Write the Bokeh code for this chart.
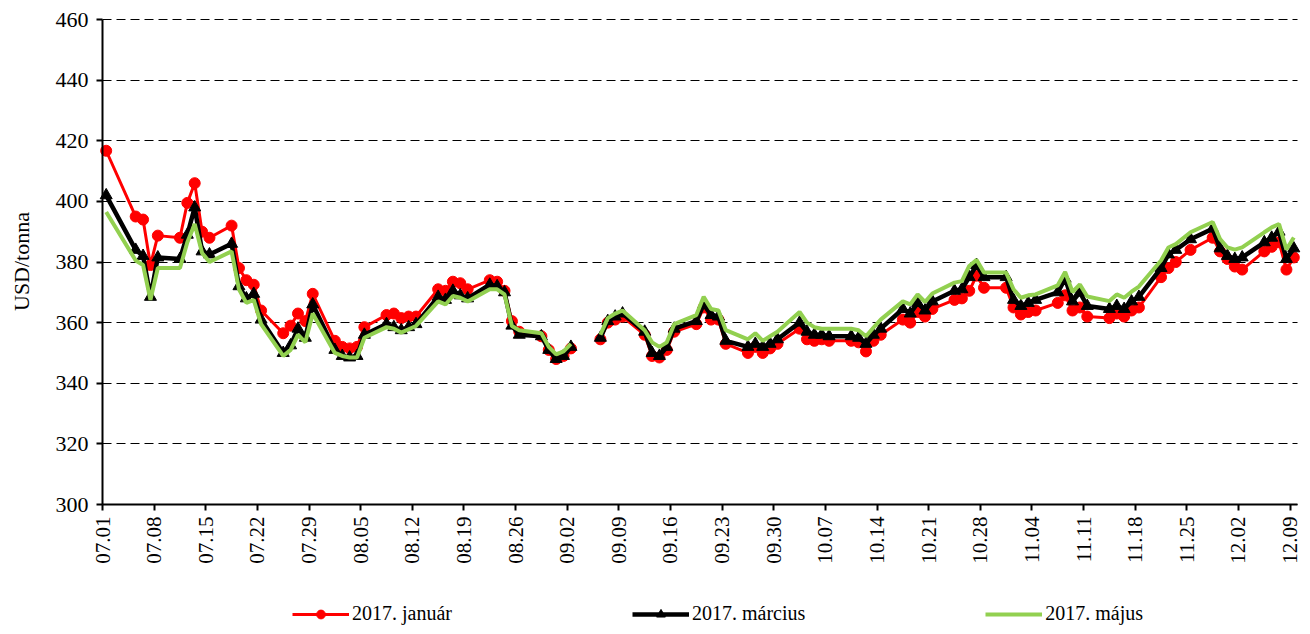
import math
import datetime as dt
from bokeh.plotting import figure
from bokeh.models import Range1d, FixedTicker, Legend, LegendItem, ColumnDataSource, Label, Grid
from bokeh.embed import file_html
from bokeh.resources import INLINE

# ---- data (2016 trading days, USD/tonna) ----
dates = ["07.01", "07.05", "07.06", "07.07", "07.08", "07.11", "07.12", "07.13", "07.14", "07.15",
         "07.18", "07.19", "07.20", "07.21", "07.22", "07.25", "07.26", "07.27", "07.28", "07.29",
         "08.01", "08.02", "08.03", "08.04", "08.05", "08.08", "08.09", "08.10", "08.11", "08.12",
         "08.15", "08.16", "08.17", "08.18", "08.19", "08.22", "08.23", "08.24", "08.25", "08.26",
         "08.29", "08.30", "08.31", "09.01", "09.02", "09.05", "09.06", "09.07", "09.08", "09.09",
         "09.12", "09.13", "09.14", "09.15", "09.16", "09.19", "09.20", "09.21", "09.22", "09.23",
         "09.26", "09.27", "09.28", "09.29", "09.30", "10.03", "10.04", "10.05", "10.06", "10.07",
         "10.10", "10.11", "10.12", "10.13", "10.14", "10.17", "10.18", "10.19", "10.20", "10.21",
         "10.24", "10.25", "10.26", "10.27", "10.28", "10.31", "11.01", "11.02", "11.03", "11.04",
         "11.07", "11.08", "11.09", "11.10", "11.11", "11.14", "11.15", "11.16", "11.17", "11.18",
         "11.21", "11.22", "11.23", "11.25", "11.28", "11.29", "11.30", "12.01", "12.02",
         "12.05", "12.06", "12.07", "12.08", "12.09"]

jan = [416.7, 395, 394, 379, 388.7, 388, 399.5, 406, 390, 388,
       392, 378, 374, 372.5, 364, 356.5, 359, 363, 360.5, 369.5,
       354, 352, 351.5, 352, 358.5, 362.5, 363, 361.5, 362, 362,
       371, 370.5, 373.5, 373, 371, 374, 373.5, 370.5, 360.5, 357,
       355.5, 351, 348, 349, 351.5, None, 354.5, 360, 361, 362,
       356, 349, 348.5, 351, 357, 359.5, 365, 361, 361, 353,
       350, 352, 350, 351.5, 353, 358, 354.5, 354, 354.5, 354,
       354, 353.5, 350.5, 354, 356, 361, 360, 363.5, 362, 364.5,
       367.5, 368, 370.5, 375.5, 371.5, 371.5, 365, 362.7, 363.5, 364,
       366.5, 369, 364, 365, 362, 361.5, 363, 362, 364, 365,
       375, 378, 380, 384, 388, 383.5, 381, 378.5, 377.5,
       383.5, 385, 386.5, 377.5, 381.5]

mar = [402, 384, 382, 368.5, 381.5, 381, 389, 398, 383.5, 382.5,
       386, 372, 368, 369.5, 361, 350, 352.5, 358, 355, 366,
       351, 349, 348.5, 349, 356, 359.5, 358.5, 357.5, 358.5, 359.5,
       368.5, 367.5, 370.5, 369, 368, 372.5, 372, 370, 359, 356,
       355.5, 351, 348, 349, 352, None, 355, 360.5, 362, 363,
       357, 350, 349, 352, 358, 360.5, 366, 362.5, 362, 354,
       352, 353, 352, 353, 354.5, 360, 357, 356, 356, 355.5,
       355.5, 355, 353, 356, 358, 364.5, 363, 366.5, 364, 367,
       370.5, 371, 375, 379, 375, 375, 367.5, 365.5, 366.5, 367.5,
       370, 374.5, 367, 370, 365.5, 364.5, 365.5, 364.5, 367, 368.5,
       378, 382.5, 384, 387.5, 391, 384.5, 382, 381, 381.5,
       386.5, 388, 390, 381, 384.5]

may = [396.5, 380.5, 379, 367.5, 378, 378, 386.5, 392.5, 383, 380,
       383.5, 371, 366.5, 367.5, 359.5, 349, 351, 356, 353.5, 363,
       350, 349, 348.5, 348.5, 355, 358.5, 358, 356.7, 357.8, 358.9,
       367, 366, 368.8, 368.2, 367, 371, 371, 369.3, 358.9, 357.5,
       356.5, 352, 349.5, 350.5, 353, None, 356, 361.5, 363, 364,
       357.5, 353.5, 352, 353.5, 359.5, 362.5, 368.5, 364.5, 364, 357.5,
       354.5, 356.5, 354, 355.5, 357, 363.5, 360, 358.5, 358, 358,
       358, 357.5, 355.5, 358.3, 361, 367, 366, 369.3, 366.8, 369.6,
       373.2, 373.7, 378.7, 380.7, 376.5, 376.5, 371, 368.2, 369, 369.3,
       372.3, 376.7, 370.1, 372.6, 368.6, 367.1, 369.3, 368.2, 370.2, 371.9,
       380.5, 384.8, 385.9, 389.8, 393.2, 387.6, 384.8, 384.1, 384.8,
       389.8, 391.4, 392.5, 384.1, 388.1]

tick_labels = ["07.01", "07.08", "07.15", "07.22", "07.29", "08.05", "08.12", "08.19", "08.26",
               "09.02", "09.09", "09.16", "09.23", "09.30", "10.07", "10.14", "10.21", "10.28",
               "11.04", "11.11", "11.18", "11.25", "12.02", "12.09"]

series_names = ["2017. január", "2017. március", "2017. május"]
y_title = "USD/tonna"
y_ticks = [300, 320, 340, 360, 380, 400, 420, 440, 460]
Y_MIN, Y_MAX = 300, 460
X_DAYS = 162          # 07.01 .. 12.10

YEAR = 2016
START = dt.date(YEAR, 7, 1)


def day_of(s):
    m, d = s.split(".")
    return (dt.date(YEAR, int(m), int(d)) - START).days


def clean(vals):
    return [float("nan") if v is None else v for v in vals]


x = [day_of(s) + 0.5 for s in dates]
src = ColumnDataSource(dict(x=x, jan=clean(jan), mar=clean(mar), may=clean(may)))

FONT = "Liberation Serif"

# ---- canvas geometry (pixels) ----
W, H = 1302, 626
PLOT_L, PLOT_R = 102, 1297     # x of day 0 and of day X_DAYS
PLOT_T, PLOT_B = 19, 504       # y of Y_MAX and of Y_MIN
px_x = (PLOT_R - PLOT_L) / X_DAYS
px_y = (PLOT_B - PLOT_T) / (Y_MAX - Y_MIN)
x_range = Range1d(-PLOT_L / px_x, X_DAYS + (W - PLOT_R) / px_x)
y_range = Range1d(Y_MIN - (H - PLOT_B) / px_y, Y_MAX + PLOT_T / px_y)

p = figure(width=W, height=H, output_backend="svg", toolbar_location=None,
           x_range=x_range, y_range=y_range,
           min_border_left=0, min_border_right=0, min_border_top=0, min_border_bottom=0)
p.outline_line_color = None
p.background_fill_color = "white"
p.border_fill_color = "white"

# grid: dashed value lines spanning only the date period
p.xgrid.grid_line_color = None
p.ygrid.ticker = FixedTicker(ticks=y_ticks)
p.ygrid.grid_line_color = "black"
p.ygrid.grid_line_dash = "9 5"
p.ygrid.grid_line_width = 1.2
if "cross_bounds" in Grid.properties():
    p.ygrid.cross_bounds = (0, X_DAYS)
else:
    p.ygrid.grid_line_color = None
    p.segment(x0=[0] * len(y_ticks), x1=[X_DAYS] * len(y_ticks), y0=y_ticks, y1=y_ticks,
              line_color="black", line_dash="9 5", line_width=1.2)

# axes (drawn at the edges of the value area)
tick_pos = [day_of(t) for t in tick_labels]
p.xaxis.ticker = FixedTicker(ticks=tick_pos)
p.xaxis.major_label_overrides = {pos: lab for pos, lab in zip(tick_pos, tick_labels)}
p.xaxis.major_label_orientation = math.pi / 2
p.xaxis.fixed_location = Y_MIN
p.xaxis.bounds = (0, X_DAYS)
p.yaxis.ticker = FixedTicker(ticks=y_ticks)
p.yaxis.fixed_location = 0
p.yaxis.bounds = (Y_MIN, Y_MAX)
for ax in (p.xaxis, p.yaxis):
    ax.axis_line_color = "black"
    ax.axis_line_width = 2
    ax.major_tick_line_color = "black"
    ax.major_tick_line_width = 2
    ax.major_tick_out = 6
    ax.major_tick_in = 0
    ax.minor_tick_line_color = None
    ax.major_label_text_font = FONT
    ax.major_label_text_color = "black"
p.yaxis.major_label_text_font_size = "22px"
p.xaxis.major_label_text_font_size = "21px"
p.yaxis.major_label_standoff = 8
p.xaxis.major_label_standoff = 6

p.add_layout(Label(x=21, y=H - 261, x_units="screen", y_units="screen", text=y_title,
                   angle=math.pi / 2, text_align="center", text_baseline="middle",
                   text_font=FONT, text_font_size="22px", text_color="black"))

# series
r_line = p.line("x", "jan", source=src, line_color="#FF0000", line_width=3)
r_mark = p.scatter("x", "jan", source=src, marker="circle", size=11,
                   fill_color="#FF0000", line_color="#FF0000")
b_line = p.line("x", "mar", source=src, line_color="black", line_width=4.5)
b_mark = p.scatter("x", "mar", source=src, marker="triangle", size=12,
                   fill_color="black", line_color="black")
g_line = p.line("x", "may", source=src, line_color="#92D050", line_width=4)

legend = Legend(items=[
    LegendItem(label=series_names[0], renderers=[r_line, r_mark]),
    LegendItem(label=series_names[1], renderers=[b_line, b_mark]),
    LegendItem(label=series_names[2], renderers=[g_line]),
], orientation="horizontal", location=(292, 1))
legend.border_line_color = None
legend.background_fill_alpha = 0
legend.padding = 0
legend.margin = 0
legend.spacing = 180
legend.glyph_width = 57
legend.glyph_height = 22
legend.label_standoff = 3
legend.label_width = 0
legend.label_text_font = FONT
legend.label_text_font_size = "20px"
legend.label_text_color = "black"
p.add_layout(legend, "center")

open("out.html", "w").write(file_html(p, INLINE))
